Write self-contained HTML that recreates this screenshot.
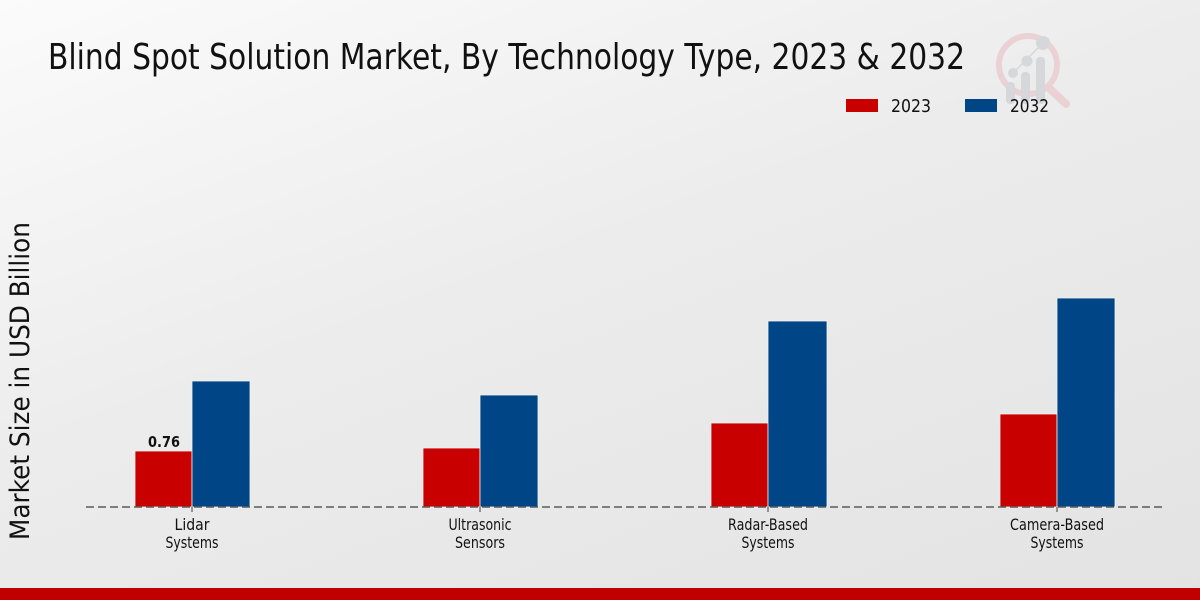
<!DOCTYPE html>
<html>
<head>
<meta charset="utf-8">
<style>
html,body{margin:0;padding:0;}
body{width:1200px;height:600px;overflow:hidden;background:linear-gradient(160deg,#fbfbfb 0%,#ececec 45%,#e3e3e3 100%);}
svg{display:block;}
text{font-family:"DejaVu Sans","Liberation Sans",sans-serif;fill:#111;}
</style>
</head>
<body>
<svg width="1200" height="600" viewBox="0 0 1200 600" xmlns="http://www.w3.org/2000/svg">
  <!-- watermark logo -->
  <g opacity="0.9">
    <circle cx="1028" cy="65" r="29" fill="none" stroke="#ead0d2" stroke-width="6"/>
    <line x1="1049" y1="88" x2="1066" y2="104" stroke="#ead0d2" stroke-width="8" stroke-linecap="round"/>
    <rect x="1006" y="82" width="9" height="22" rx="4" fill="#d4d5d9"/>
    <rect x="1021" y="72" width="9" height="32" rx="4" fill="#d4d5d9"/>
    <rect x="1036" y="57" width="9" height="47" rx="4" fill="#d4d5d9"/>
    <circle cx="1013" cy="73" r="5" fill="#d4d5d9"/>
    <circle cx="1027" cy="61" r="5.5" fill="#d4d5d9"/>
    <circle cx="1043" cy="43" r="7" fill="#d4d5d9"/>
    <line x1="1013" y1="73" x2="1043" y2="43" stroke="#d4d5d9" stroke-width="1.5"/>
  </g>

  <!-- title -->
  <text x="48" y="69" font-size="36" textLength="917" lengthAdjust="spacingAndGlyphs">Blind Spot Solution Market, By Technology Type, 2023 &amp; 2032</text>

  <!-- legend -->
  <rect x="846" y="99" width="32" height="13" fill="#c80000"/>
  <text x="891" y="112" font-size="18" textLength="40" lengthAdjust="spacingAndGlyphs">2023</text>
  <rect x="965" y="99" width="32" height="13" fill="#004687"/>
  <text x="1010" y="112" font-size="18" textLength="39" lengthAdjust="spacingAndGlyphs">2032</text>

  <!-- y-axis label -->
  <text transform="translate(29,381) rotate(-90)" text-anchor="middle" font-size="27" textLength="318" lengthAdjust="spacingAndGlyphs" fill="#1a1a1a">Market Size in USD Billion</text>

  <!-- bars -->
  <g stroke="#f2f2f2" stroke-width="0.8">
    <rect x="135" y="451" width="57" height="56" fill="#c80000"/>
    <rect x="192" y="381" width="58" height="126" fill="#004687"/>
    <rect x="423" y="448" width="57" height="59" fill="#c80000"/>
    <rect x="480" y="395" width="58" height="112" fill="#004687"/>
    <rect x="711" y="423" width="57" height="84" fill="#c80000"/>
    <rect x="768" y="321" width="59" height="186" fill="#004687"/>
    <rect x="1000" y="414" width="57" height="93" fill="#c80000"/>
    <rect x="1057" y="298" width="58" height="209" fill="#004687"/>
  </g>

  <!-- baseline -->
  <line x1="86" y1="507" x2="1163" y2="507" stroke="#5a5a5a" stroke-width="1.5" stroke-dasharray="8,4"/>
  <g stroke="#5a5a5a" stroke-width="1.2">
    <line x1="192" y1="507" x2="192" y2="512"/>
    <line x1="480" y1="507" x2="480" y2="512"/>
    <line x1="768" y1="507" x2="768" y2="512"/>
    <line x1="1057" y1="507" x2="1057" y2="512"/>
  </g>

  <!-- value label -->
  <text x="164" y="447" font-size="15" font-weight="bold" text-anchor="middle" textLength="32" lengthAdjust="spacingAndGlyphs">0.76</text>

  <!-- x labels -->
  <g font-size="16" text-anchor="middle">
    <text x="192" y="530" textLength="35" lengthAdjust="spacingAndGlyphs">Lidar</text>
    <text x="192" y="548" textLength="53" lengthAdjust="spacingAndGlyphs">Systems</text>
    <text x="480" y="530" textLength="63" lengthAdjust="spacingAndGlyphs">Ultrasonic</text>
    <text x="480" y="548" textLength="50" lengthAdjust="spacingAndGlyphs">Sensors</text>
    <text x="768" y="530" textLength="80" lengthAdjust="spacingAndGlyphs">Radar-Based</text>
    <text x="768" y="548" textLength="53" lengthAdjust="spacingAndGlyphs">Systems</text>
    <text x="1057" y="530" textLength="94" lengthAdjust="spacingAndGlyphs">Camera-Based</text>
    <text x="1057" y="548" textLength="53" lengthAdjust="spacingAndGlyphs">Systems</text>
  </g>

  <!-- bottom band -->
  <rect x="0" y="588" width="1200" height="12" fill="#c00000"/>
</svg>
</body>
</html>
